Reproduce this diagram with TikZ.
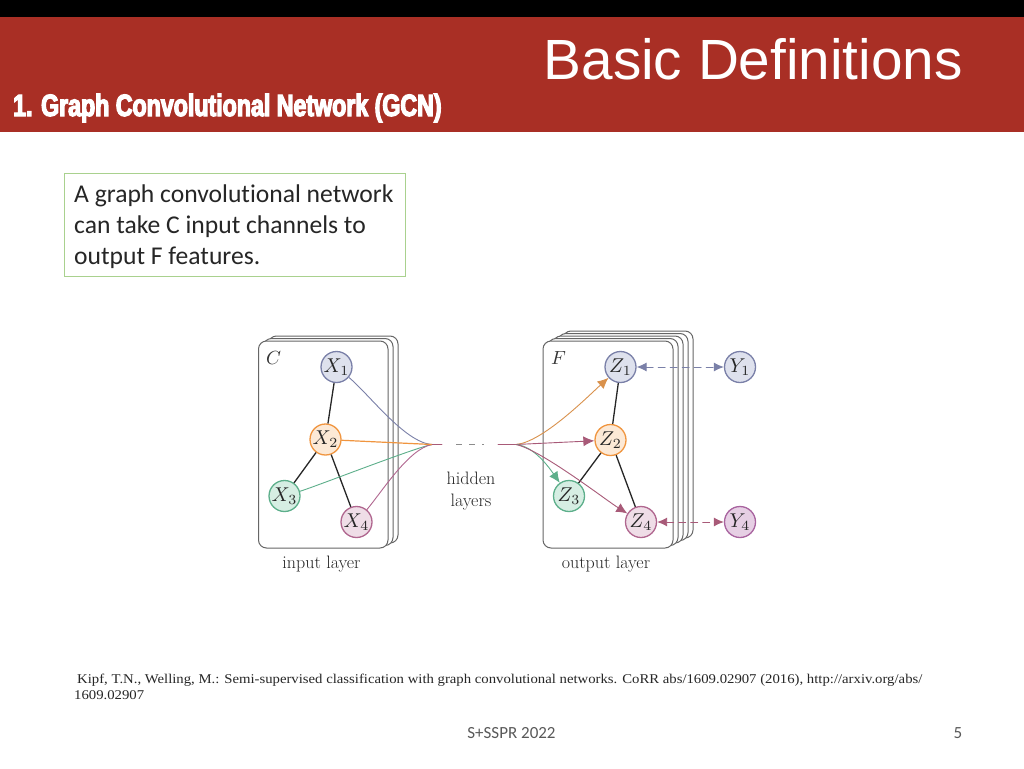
\documentclass[tikz,border=0pt]{standalone}
\usepackage{graphicx}
\usepackage{fontspec}
\usetikzlibrary{arrows.meta}
\newfontfamily\titlefont{Liberation Sans}
\newfontfamily\headfont[FakeBold=4,FakeStretch=0.755]{Liberation Sans Bold}
\newfontfamily\bodyfont[Ligatures=NoCommon]{Carlito}
\newfontfamily\citefont[FakeStretch=1.10]{Liberation Serif}
\newcommand{\vlab}[1]{\scalebox{2.0}{$#1$}}
\definecolor{bandred}{HTML}{A92F25}
\definecolor{boxgreen}{HTML}{A9D18E}
\definecolor{cardline}{HTML}{666666}
\definecolor{blueF}{HTML}{DEE1ED}\definecolor{blueD}{HTML}{7A80A8}
\definecolor{orangeF}{HTML}{FCE9D6}\definecolor{orangeD}{HTML}{F0953F}
\definecolor{greenF}{HTML}{D6EEE3}\definecolor{greenD}{HTML}{5DAF8B}
\definecolor{pinkF}{HTML}{EFDDE7}\definecolor{pinkD}{HTML}{B0668F}
\definecolor{purpF}{HTML}{E6CFE4}\definecolor{purpD}{HTML}{A8639F}
\definecolor{mauve}{HTML}{A85A78}
\definecolor{labelgrey}{HTML}{595959}
\tikzset{
  x=1pt,y=-1pt,
  card/.style={draw=cardline,fill=white,line width=1pt,rounded corners=8pt},
  vtx/.style={circle,minimum size=31pt,inner sep=0pt,line width=1.3pt,text=black!85},
  bluev/.style={vtx,draw=blueD,fill=blueF},
  orangev/.style={vtx,draw=orangeD,fill=orangeF},
  greenv/.style={vtx,draw=greenD,fill=greenF},
  pinkv/.style={vtx,draw=pinkD,fill=pinkF},
  purpv/.style={vtx,draw=purpD,fill=purpF},
  edgeline/.style={draw=black!85,line width=1.3pt},
  feed/.style={line width=0.9pt,line cap=round},
  intip/.style={{Latex[length=11pt,width=10pt]}-},
  tiptwo/.style={{Latex[length=10pt,width=9pt]}-{Latex[length=10pt,width=9pt]}},
  captext/.style={font=\fontsize{18}{21.5}\selectfont,text=black!85,align=center},
}
\begin{document}
\begin{tikzpicture}
\useasboundingbox (0,0) rectangle (1024,768);
\fill[white] (0,0) rectangle (1024,768);
\fill[black] (0,0) rectangle (1024,17);
\fill[bandred] (0,17) rectangle (1024,131.5);
\node[anchor=base west,inner sep=0pt,text=white,font=\titlefont\fontsize{56.7}{60}\selectfont] (title) at (543.5,79) {Basic Definitions};
\node[anchor=base west,inner sep=0pt,text=white,font=\headfont\fontsize{30.7}{32}\selectfont] (head) at (13,116) {1. Graph Convolutional Network (GCN)};
\node[draw=boxgreen,line width=1pt,anchor=north west,minimum width=341.5pt,minimum height=103.5pt,inner sep=0pt] (box) at (63.5,172.5) {};
\node[anchor=north west,inner sep=0pt,align=left,text=black!85,font=\bodyfont\fontsize{25.6}{30.6}\selectfont] (boxtext) at (74,185) {A graph convolutional network\\can take C input channels to\\output F features.};
\foreach \i in {2,1,0}{
  \draw[card] ({258.5+5*\i},{341-2.5*\i}) rectangle ({388+5*\i},{548-2.5*\i});
}
\foreach \i in {4,3,2,1,0}{
  \draw[card] ({543+5*\i},{341-2.5*\i}) rectangle ({673+5*\i},{548-2.5*\i});
}
\node[text=black!80] (clabel) at (273.5,358) {\scalebox{1.9}{$C$}};
\node[text=black!80] (flabel) at (558.5,358) {\scalebox{1.9}{$F$}};
\node[bluev] (X1) at (336.5,367) {\vlab{X_1}};
\node[orangev] (X2) at (325.5,439.5) {\vlab{X_2}};
\node[greenv] (X3) at (284.5,496) {\vlab{X_3}};
\node[pinkv] (X4) at (356.5,522) {\vlab{X_4}};
\node[bluev] (Z1) at (620.5,367) {\vlab{Z_1}};
\node[orangev] (Z2) at (610.5,440) {\vlab{Z_2}};
\node[greenv] (Z3) at (569,496) {\vlab{Z_3}};
\node[pinkv] (Z4) at (641,522) {\vlab{Z_4}};
\node[bluev] (Y1) at (740,367) {\vlab{Y_1}};
\node[purpv] (Y4) at (740,522) {\vlab{Y_4}};
\draw[edgeline] (X1)--(X2);\draw[edgeline] (X2)--(X3);\draw[edgeline] (X2)--(X4);
\draw[edgeline] (Z1)--(Z2);\draw[edgeline] (Z2)--(Z3);\draw[edgeline] (Z2)--(Z4);
\coordinate (hl) at (432,444.5);
\coordinate (hlend) at (442,444.5);
\coordinate (hrstart) at (498,444.5);
\coordinate (hr) at (516,444.5);
\coordinate (g1) at (456,444.5);
\coordinate (g2) at (484,444.5);
\draw[feed,draw=blueD] (X1) to[out=-40,in=176,looseness=0.65] (hl);
\draw[feed,draw=greenD] (X3) to[out=17,in=190,looseness=0.3] (hl);
\draw[feed,draw=pinkD] (X4) to[out=50,in=190,looseness=0.65] (hl);
\draw[feed,draw=orangeD,line width=1.2pt] (X2) to (hl);
\draw[feed,draw=mauve] (hl)--(hlend);
\draw[line width=0.9pt,draw=black!45,dash pattern=on 6pt off 7pt] (g1)--(g2);
\draw[feed,draw=mauve] (hrstart)--(hr);
\draw[feed,draw=orangeD!80!gray,intip] (Z1) to[out=222,in=5,looseness=0.6] (hr);
\draw[feed,draw=mauve,intip] (Z2) to (hr);
\draw[feed,draw=greenD,intip] (Z3) to[out=125,in=-5,looseness=0.8] (hr);
\draw[feed,draw=mauve,intip] (Z4) to[out=148,in=-12,looseness=0.5] (hr);
\draw[feed,draw=blueD,dash pattern=on 7pt off 5pt,tiptwo] (Z1)--(Y1);
\draw[feed,draw=mauve,dash pattern=on 7pt off 5pt,tiptwo] (Z4)--(Y4);
\node[captext] (hidden) at (471,491) {hidden\\layers};
\node[captext] (inlab) at (321.5,564.5) {input layer};
\node[captext] (outlab) at (606,564.5) {output layer};
\node[anchor=base west,inner sep=0pt,text=black!85,font=\citefont\fontsize{13.4}{15}\selectfont] (cite1) at (77,683) {Kipf, T.N., Welling, M.: Semi-supervised classification with graph convolutional networks. CoRR abs/1609.02907 (2016), http://arxiv.org/abs/};
\node[anchor=base west,inner sep=0pt,text=black!85,font=\citefont\fontsize{13.4}{15}\selectfont] (cite2) at (74,699) {1609.02907};
\node[text=labelgrey,font=\bodyfont\fontsize{17}{18}\selectfont] (foot) at (511.5,733) {S+SSPR 2022};
\node[text=labelgrey,font=\bodyfont\fontsize{17}{18}\selectfont] (pg) at (958,733) {5};
\end{tikzpicture}
\end{document}
